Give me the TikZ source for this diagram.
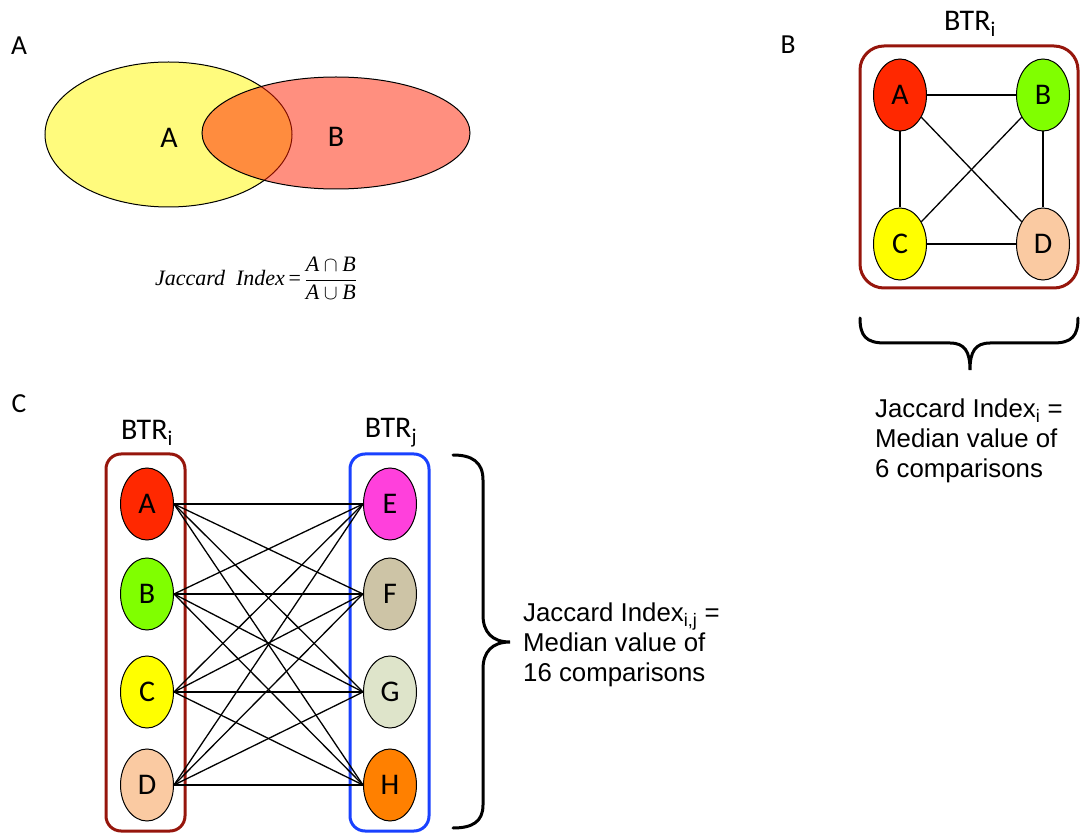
\documentclass[tikz,border=0pt]{standalone}
\usepackage{fontspec}
\setmainfont{Carlito}
\newfontfamily\arialfam{Liberation Sans}
\newfontfamily\tnrfam{Liberation Serif}
\usetikzlibrary{shapes.geometric}

\definecolor{boxred}{RGB}{150,22,12}
\definecolor{boxblue}{RGB}{25,65,255}
\definecolor{vennyellow}{RGB}{255,251,125}
\definecolor{vennred}{RGB}{255,31,0}
\definecolor{nA}{RGB}{255,40,0}
\definecolor{nB}{RGB}{128,255,0}
\definecolor{nC}{RGB}{255,255,0}
\definecolor{nD}{RGB}{250,202,162}
\definecolor{nE}{RGB}{255,64,220}
\definecolor{nF}{RGB}{205,196,166}
\definecolor{nG}{RGB}{222,228,202}
\definecolor{nH}{RGB}{255,128,0}

\tikzset{
  panel/.style={font=\fontsize{27.5}{30}\selectfont},
  btr/.style={font=\fontsize{30}{32}\selectfont},
  vnode/.style={ellipse, draw=black, line width=1pt, minimum width=53pt,
    minimum height=72pt, inner sep=0pt, font=\fontsize{30}{32}\selectfont},
  group/.style={draw, line width=3pt, rounded corners=#1},
  link/.style={draw=black, line width=1.3pt},
  bracket/.style={draw=black, line width=3pt, line cap=round},
  note/.style={font=\arialfam\fontsize{25.8}{30}\selectfont, align=left, anchor=west, inner sep=0pt},
}

\begin{document}
\begin{tikzpicture}[x=1pt,y=-1pt]
\useasboundingbox (0,0) rectangle (1080,834);

% ---------- panel A: Venn diagram ----------
\node[panel] (labA) at (19,46) {A};
\fill[vennyellow] (168.5,134.5) ellipse [x radius=123.5, y radius=72.5];
\draw[line width=1pt] (168.5,134.5) ellipse [x radius=123.5, y radius=72.5];
\fill[vennred, opacity=0.5] (336,133) ellipse [x radius=134, y radius=56];
\draw[line width=1pt] (336,133) ellipse [x radius=134, y radius=56];
\node[font=\fontsize{30}{32}\selectfont] (setA) at (169,138) {A};
\node[font=\fontsize{30}{32}\selectfont] (setB) at (336,137) {B};
\node[font=\tnrfam\itshape\fontsize{22}{26}\selectfont] (formula) at (256,278)
  {Jaccard\ \ Index\,{\upshape =}\,$\displaystyle\frac{\hbox{\tnrfam\itshape A}\cap\hbox{\tnrfam\itshape B}}{\hbox{\tnrfam\itshape A}\cup\hbox{\tnrfam\itshape B}}$};

% ---------- panel B: one BTR ----------
\node[panel] (labB) at (788,45) {B};
\node[btr] (btrB) at (970,24) {BTR\textsubscript{i}};
\draw[group=24pt, boxred] (860,46) rectangle (1078,288);
\node[vnode, fill=nA] (bA) at (900,95) {A};
\node[vnode, fill=nB] (bB) at (1043,95) {B};
\node[vnode, fill=nC] (bC) at (900,244) {C};
\node[vnode, fill=nD] (bD) at (1043,244) {D};
\draw[link] (bA) -- (bB);
\draw[link] (bA) -- (bC);
\draw[link] (bB) -- (bD);
\draw[link] (bC) -- (bD);
\draw[link] (bA) -- (bD);
\draw[link] (bB) -- (bC);

\draw[bracket] (860,318) .. controls (860,336) and (866,343) .. (885,343) -- (950,343)
  .. controls (965,343) and (970,352) .. (970,370)
  .. controls (970,352) and (975,343) .. (990,343) -- (1053,343)
  .. controls (1072,343) and (1078,336) .. (1078,318);
\node[note] (noteB) at (875,441) {Jaccard Index\textsubscript{i} =\\Median value of\\6 comparisons};

% ---------- panel C: two BTRs ----------
\node[panel] (labC) at (19,404) {C};
\node[btr] (btrI) at (147,433) {BTR\textsubscript{i}};
\node[btr] (btrJ) at (391,433) {BTR\textsubscript{j}};
\draw[group=15pt, boxred] (106,454) rectangle (185,831);
\draw[group=15pt, boxblue] (350,454) rectangle (429,831);

\node[vnode, fill=nA] (cA) at (147,504) {A};
\node[vnode, fill=nB] (cB) at (147,594) {B};
\node[vnode, fill=nC] (cC) at (147,692) {C};
\node[vnode, fill=nD] (cD) at (147,785) {D};
\node[vnode, fill=nE] (cE) at (390,504) {E};
\node[vnode, fill=nF] (cF) at (390,594) {F};
\node[vnode, fill=nG] (cG) at (390,692) {G};
\node[vnode, fill=nH] (cH) at (390,785) {H};

\foreach \l in {cA,cB,cC,cD}
  \foreach \r in {cE,cF,cG,cH}
    \draw[link] (\l.east) -- (\r.west);

\draw[bracket] (453,455) .. controls (472,455) and (483,462) .. (483,480) -- (483,615)
  .. controls (483,632) and (492,642) .. (510,642)
  .. controls (492,642) and (483,652) .. (483,669) -- (483,805)
  .. controls (483,822) and (472,828) .. (453,828);
\node[note] (noteC) at (523,645) {Jaccard Index\textsubscript{i,j} =\\Median value of\\16 comparisons};
\end{tikzpicture}
\end{document}
